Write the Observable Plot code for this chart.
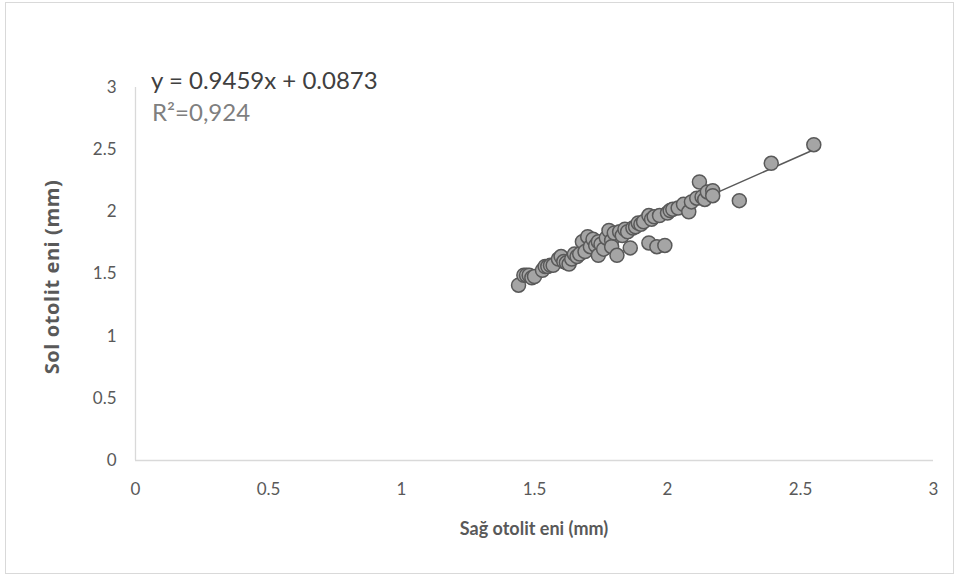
<!DOCTYPE html>
<html>
<head>
<meta charset="utf-8">
<script src="https://cdn.jsdelivr.net/npm/d3@7"></script>
<script src="https://cdn.jsdelivr.net/npm/@observablehq/plot@0.6"></script>
<style>
  html, body { margin: 0; padding: 0; background: #fff; }
  #wrap { position: relative; width: 960px; height: 578px; overflow: hidden; font-family: Lato, "Open Sans", sans-serif; }
  #frame { position: absolute; left: 5px; top: 2px; width: 949px; height: 572px; border: 1px solid #d9d9d9; box-sizing: border-box; }
  #chart { position: absolute; left: 0; top: 0; }
  .t { position: absolute; white-space: nowrap; line-height: 1.2; }
</style>
</head>
<body>
<div id="wrap">
  <div id="frame"></div>
  <div id="chart"></div>
  <div class="t" id="eq" style="left:151px; top:66px; font-size:24px; color:#404040;"></div>
  <div class="t" id="r2" style="left:152px; top:98px; font-size:24px; color:#7f7f7f;"></div>
  <div class="t" id="xt" style="left:0; width:1068px; text-align:center; top:518px; font-size:18px; font-weight:bold; color:#595959;"></div>
  <div class="t" id="yt" style="left:52px; top:277px; font-family:'Open Sans', sans-serif; font-size:20px; letter-spacing:0.6px; font-weight:bold; color:#595959; transform: translate(-50%,-50%) rotate(-90deg);"></div>
</div>
<script>
// Data
const sagOtolit = [1.44,1.46,1.47,1.48,1.49,1.50,1.53,1.54,1.55,1.56,1.57,1.59,1.60,1.61,1.62,1.63,1.64,1.65,1.66,1.67,1.68,1.69,1.70,1.71,1.72,1.73,1.74,1.74,1.75,1.76,1.77,1.78,1.79,1.79,1.80,1.81,1.82,1.83,1.84,1.85,1.86,1.87,1.88,1.89,1.90,1.91,1.93,1.93,1.94,1.95,1.96,1.97,1.99,2.00,2.01,2.02,2.04,2.06,2.08,2.09,2.11,2.12,2.13,2.14,2.15,2.17,2.17,2.27,2.39,2.55];
const solOtolit = [1.41,1.49,1.49,1.49,1.47,1.48,1.53,1.56,1.56,1.57,1.57,1.62,1.64,1.60,1.59,1.58,1.62,1.66,1.64,1.66,1.76,1.68,1.80,1.72,1.78,1.73,1.65,1.76,1.74,1.70,1.79,1.85,1.77,1.72,1.83,1.65,1.84,1.81,1.86,1.84,1.71,1.87,1.88,1.91,1.90,1.92,1.97,1.75,1.94,1.96,1.72,1.97,1.73,1.99,2.01,2.02,2.03,2.06,2.00,2.08,2.11,2.24,2.12,2.10,2.16,2.17,2.13,2.09,2.39,2.54];
const slope = 0.9459;
const intercept = 0.0873;
const r2Text = "R²=0,924";
const xTicks = [0, 0.5, 1, 1.5, 2, 2.5, 3];
const yTicks = [0, 0.5, 1, 1.5, 2, 2.5, 3];
const xTitle = "Sağ otolit eni (mm)";
const yTitle = "Sol otolit eni (mm)";

const points = sagOtolit.map((x, i) => ({x, y: solOtolit[i]}));
const xMin = d3.min(sagOtolit), xMax = d3.max(sagOtolit);
const fitLine = [xMin, xMax].map(x => ({x, y: slope * x + intercept}));

document.getElementById("eq").textContent = `y = ${slope}x + ${intercept}`;
document.getElementById("r2").textContent = r2Text;
document.getElementById("xt").textContent = xTitle;
document.getElementById("yt").textContent = yTitle;

const chart = Plot.plot({
  width: 960,
  height: 578,
  marginLeft: 135,
  marginRight: 27,
  marginTop: 87,
  marginBottom: 118,
  style: {fontFamily: "Lato, 'Open Sans', sans-serif", fontSize: "17px", color: "#595959", background: "transparent"},
  x: {domain: [0, 3]},
  y: {domain: [0, 3]},
  marks: [
    Plot.axisX(xTicks, {tickSize: 0, tickPadding: 22, label: null, tickFormat: d => String(d), fill: "#595959"}),
    Plot.axisY(yTicks, {tickSize: 0, tickPadding: 19, label: null, tickFormat: d => String(d), fill: "#595959"}),
    Plot.ruleY([0], {stroke: "#d9d9d9", strokeWidth: 1.3}),
    Plot.ruleX([0], {stroke: "#d9d9d9", strokeWidth: 1.3}),
    Plot.line(fitLine, {x: "x", y: "y", stroke: "#595959", strokeWidth: 1.5}),
    Plot.dot(points, {x: "x", y: "y", r: 7, fill: "#a5a5a5", stroke: "#595959", strokeWidth: 1.5})
  ]
});
document.getElementById("chart").appendChild(chart);
</script>
</body>
</html>
